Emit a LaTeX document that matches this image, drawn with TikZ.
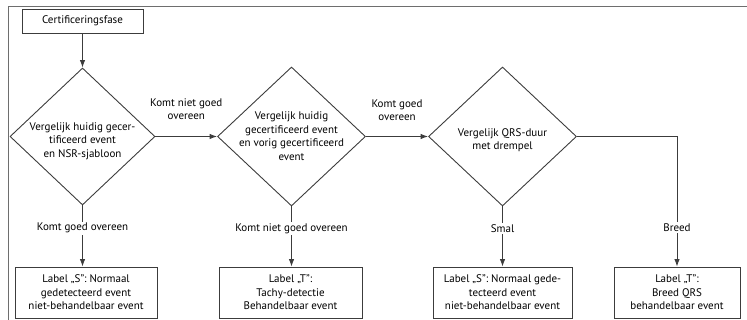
\documentclass[tikz,border=0pt]{standalone}
\usepackage{fontspec}
\setmainfont{PT Sans}
\usetikzlibrary{arrows.meta, positioning, shapes.geometric}
\definecolor{lijnGrijs}{HTML}{3C3C3C}
\definecolor{kaderGrijs}{HTML}{6E6E6E}
\newcommand{\vakfont}{\fontsize{11}{13.5}\selectfont}

\begin{document}
\begin{tikzpicture}[x=1pt, y=-1pt,
    lijn/.style={draw=lijnGrijs, line width=0.9pt},
    pijl/.style={lijn, -{Latex[length=7.5pt, width=5.5pt]}},
    vak/.style={lijn, rectangle, inner sep=0pt, align=center, font=\vakfont},
    keuze/.style={lijn, diamond, inner sep=0pt, minimum width=148pt, minimum height=139pt},
    tekst/.style={align=center, font=\vakfont, inner sep=0pt},
    lbl/.style={fill=white, align=center, font=\vakfont, inner sep=1.5pt}]
    \useasboundingbox (0,0) rectangle (747,320);

    % Kader
    \draw[draw=kaderGrijs, line width=1pt] (8,6.5) rectangle (770,340);

    % Start
    \node[vak, minimum width=121pt, minimum height=24pt] (start) at (82.5,21) {Certificeringsfase};

    % Beslissingen
    \node[keuze, minimum width=145pt, minimum height=137pt] (k1) at (82.5,136.5) {};
    \node[tekst] (t1) at (82.5,141) {Vergelijk huidig gecer-\\tificeerd event\\en NSR-sjabloon};
    \node[keuze] (k2) at (291.5,136.5) {};
    \node[tekst] (t2) at (291.5,136) {Vergelijk huidig\\gecertificeerd event\\en vorig gecertificeerd\\event};
    \node[keuze] (k3) at (502.5,136.5) {};
    \node[tekst] (t3) at (502.5,140) {Vergelijk QRS-duur\\met drempel};

    % Labels
    \node[vak, minimum width=142pt, minimum height=51pt] (b1) at (86,292.5) {Label „S”: Normaal\\gedetecteerd event\\niet-behandelbaar event};
    \node[vak, minimum width=143pt, minimum height=51pt] (b2) at (290.5,292.5) {Label „T”:\\Tachy-detectie\\Behandelbaar event};
    \node[vak, minimum width=139pt, minimum height=51pt] (b3) at (502.5,292.5) {Label „S”: Normaal gede-\\tecteerd event\\niet-behandelbaar event};
    \node[vak, minimum width=126pt, minimum height=51pt] (b4) at (677,292.5) {Label „T”:\\Breed QRS\\behandelbaar event};

    % Pijlen
    \draw[pijl] (start) -- (k1);
    \draw[pijl] (k1.east) -- node[tekst, above=16pt] (l12) {Komt niet goed\\overeen} (k2.west);
    \draw[pijl] (k2.east) -- node[tekst, above=15pt] (l23) {Komt goed\\overeen} (k3.west);
    \draw[pijl] (k1.south) -- node[lbl, pos=0.37] (l1) {Komt goed overeen} (k1.south |- b1.north);
    \draw[pijl] (k2.south) -- node[lbl, pos=0.37] (l2) {Komt niet goed overeen} (k2.south |- b2.north);
    \draw[pijl] (k3.south) -- node[lbl, pos=0.37] (l3) {Smal} (k3.south |- b3.north);
    \draw[pijl] (k3.east) -| node[lbl, pos=0.85] (l4) {Breed} (b4.north);
\end{tikzpicture}
\end{document}
